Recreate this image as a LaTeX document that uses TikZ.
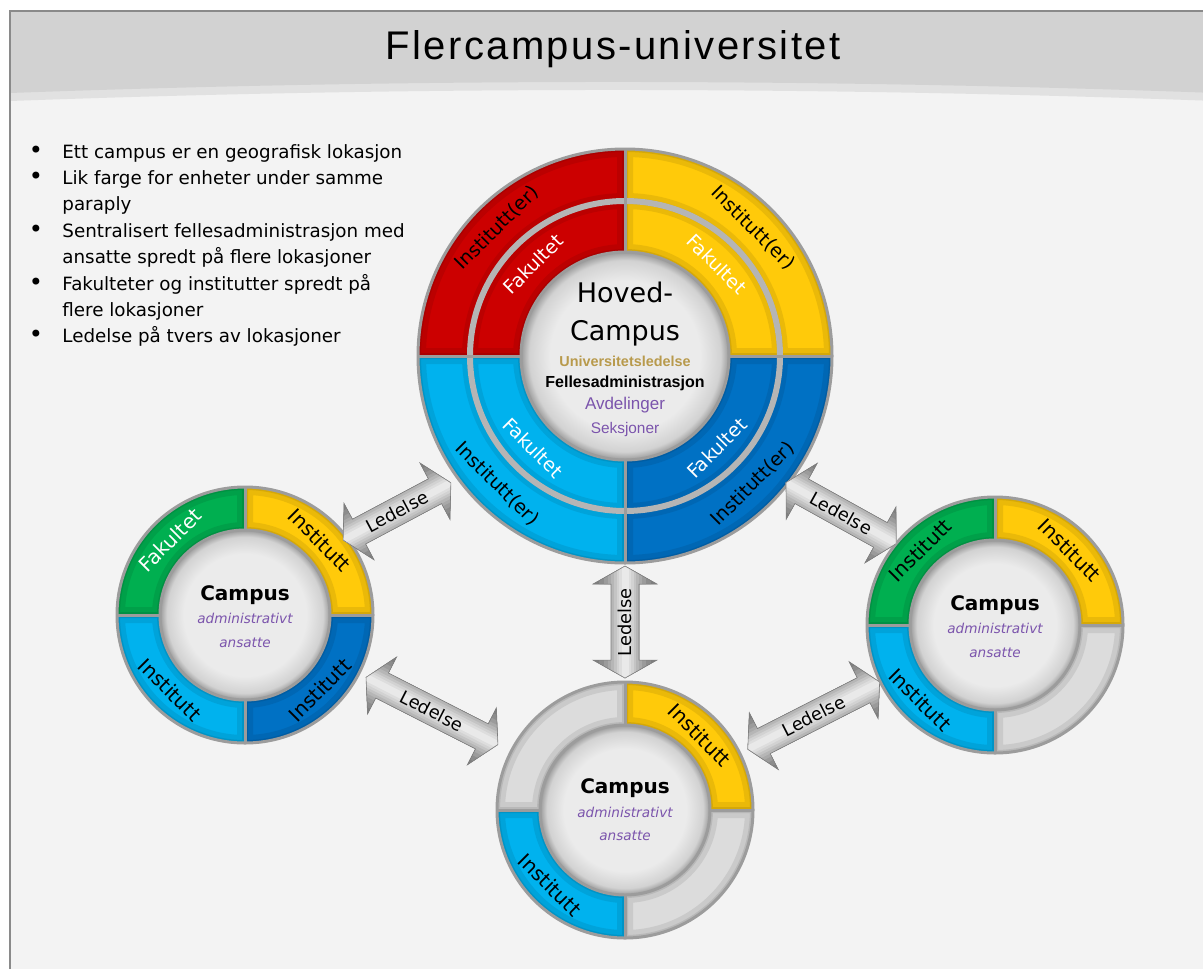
\documentclass[tikz,border=0pt]{standalone}
\usepackage{fontspec}
\setmainfont{DejaVu Sans}
\newfontfamily\titlefont[LetterSpace=6]{Liberation Sans}
\newfontfamily\arialfont{Liberation Sans}
\usetikzlibrary{calc}

\definecolor{pagebg}{HTML}{F3F3F3}
\definecolor{bandA}{HTML}{D2D2D2}
\definecolor{bandB}{HTML}{E1E1E1}
\definecolor{framegray}{HTML}{8A8A8A}
\definecolor{cRed}{HTML}{CC0000}
\definecolor{cYellow}{HTML}{FFCA0A}
\definecolor{cLight}{HTML}{00B2EE}
\definecolor{cDark}{HTML}{0071C4}
\definecolor{cGreen}{HTML}{00AF50}
\definecolor{cGray}{HTML}{DCDCDC}
\definecolor{ringgray}{HTML}{9C9C9C}
\definecolor{gold}{HTML}{B89A4C}
\definecolor{violet}{HTML}{7B54AC}
\definecolor{hubA}{HTML}{EBEBEB}
\definecolor{hubB}{HTML}{D2D2D2}
\definecolor{hubC}{HTML}{9A9A9A}
\definecolor{arrD}{HTML}{7E7E7E}
\definecolor{arrL}{HTML}{F2F2F2}

\pgfdeclareradialshading{hub}{\pgfpoint{0bp}{0bp}}{color(0bp)=(hubA); color(18bp)=(hubA); color(23bp)=(hubB); color(25bp)=(hubC); color(50bp)=(hubC)}

\tikzset{
  ringlbl/.style={inner sep=0pt, font=\fontsize{9.5}{11}\selectfont},
  smalllbl/.style={inner sep=0pt, font=\fontsize{10}{12}\selectfont},
  bullettxt/.style={inner sep=0pt, anchor=base west, font=\fontsize{9.15}{11}\selectfont},
  bulletdot/.style={inner sep=0pt, anchor=base, font=\fontsize{12}{12}\selectfont},
  ledtext/.style={inner sep=0pt, font=\fontsize{8.9}{10}\selectfont},
  campushead/.style={inner sep=0pt, anchor=base, font=\fontsize{10}{12}\selectfont\bfseries},
  campussub/.style={inner sep=0pt, anchor=base, text=violet, font=\fontsize{6.8}{8}\selectfont\itshape},
  hubline/.style={inner sep=0pt, anchor=base},
}

% one coloured quarter of a ring, with a soft inner shadow
\newcommand\ringpart[6]{% centre, inner r, outer r, start, end, colour
  \begin{scope}[shift={(#1)}]
    \fill[#6] (#4:#3) arc[start angle=#4,end angle=#5,radius=#3] -- (#5:#2) arc[start angle=#5,end angle=#4,radius=#2] -- cycle;
    \begin{scope}
      \clip (#4:#3) arc[start angle=#4,end angle=#5,radius=#3] -- (#5:#2) arc[start angle=#5,end angle=#4,radius=#2] -- cycle;
      \draw[#6!55!black, opacity=.18, line width=8pt] (#4:#3) arc[start angle=#4,end angle=#5,radius=#3] -- (#5:#2) arc[start angle=#5,end angle=#4,radius=#2] -- cycle;
      \draw[#6!55!black, opacity=.22, line width=3pt] (#4:#3) arc[start angle=#4,end angle=#5,radius=#3] -- (#5:#2) arc[start angle=#5,end angle=#4,radius=#2] -- cycle;
    \end{scope}
  \end{scope}}

% grey frame lines and shaded hub of a campus wheel
\newcommand\wheelframe[3]{% centre, hub r, outer r
  \draw[ringgray, line width=1.5pt] (#1) circle[radius=#3];
  \foreach \a in {0,90,180,270}
    \draw[ringgray, line width=1.5pt] ($(#1)+(\a:#2)$) -- ($(#1)+(\a:#3)$);
  \shade[shading=hub] (#1) circle[radius=#2];
  \draw[ringgray, line width=1.5pt] (#1) circle[radius=#2];}

% double-headed block arrow labelled "Ledelse": name, position, angle, half shaft length
\newcommand\ledarrow[4]{%
  \begin{scope}[shift={#2}, rotate=#3]
    \begin{scope}
      \clip (-#4-18,0) -- (-#4,32) -- (-#4,14) -- (#4,14) -- (#4,32) -- (#4+18,0)
        -- (#4,-32) -- (#4,-14) -- (-#4,-14) -- (-#4,-32) -- cycle;
      \fill[arrD] (-#4-20,-34) rectangle (#4+20,34);
      \foreach \w/\c in {32pt/0,26pt/12,21pt/25,17pt/37,14pt/48,11pt/60,8.5pt/72,6pt/82,3.5pt/92}
        \draw[line width=\w, color=arrL!\c!arrD] (-#4-20,0) -- (#4+20,0);
    \end{scope}
    \draw[arrD, line width=0.3pt] (-#4-18,0) -- (-#4,32) -- (-#4,14) -- (#4,14) -- (#4,32) -- (#4+18,0)
        -- (#4,-32) -- (#4,-14) -- (-#4,-14) -- (-#4,-32) -- cycle;
  \end{scope}
  \node[ledtext, rotate=#3] (#1) at #2 {Ledelse};}

\begin{document}
\begin{tikzpicture}[x=0.5pt, y=0.5pt]
\useasboundingbox (0,0) rectangle (1203,-969);

% slide background and title band
\fill[white] (0,0) rectangle (1203,-969);
\fill[pagebg] (10,-11) rectangle (1203,-969);
\fill[bandB] (10,-11) -- (1216,-11) -- (1216,-101) .. controls (814,-86.3) and (412,-86.3) .. (10,-101) -- cycle;
\fill[bandA] (10,-11) -- (1216,-11) -- (1216,-93) .. controls (814,-78.3) and (412,-78.3) .. (10,-93) -- cycle;
\draw[framegray, line width=0.6pt] (10,-969) -- (10,-11) -- (1203,-11);

\node[inner sep=0pt, anchor=base, font=\titlefont\fontsize{20}{24}\selectfont] (title) at (613,-59) {Flercampus-universitet};

% bullet list
\node[bulletdot] (d1) at (36,-158) {•};
\node[bullettxt] (b1) at (62,-158) {Ett campus er en geografisk lokasjon};
\node[bulletdot] (d2) at (36,-184.4) {•};
\node[bullettxt] (b2) at (62,-184.4) {Lik farge for enheter under samme};
\node[bullettxt] (b2b) at (62,-210.8) {paraply};
\node[bulletdot] (d3) at (36,-237.2) {•};
\node[bullettxt] (b3) at (62,-237.2) {Sentralisert fellesadministrasjon med};
\node[bullettxt] (b3b) at (62,-263.6) {ansatte spredt på flere lokasjoner};
\node[bulletdot] (d4) at (36,-290) {•};
\node[bullettxt] (b4) at (62,-290) {Fakulteter og institutter spredt på};
\node[bullettxt] (b4b) at (62,-316.4) {flere lokasjoner};
\node[bulletdot] (d5) at (36,-342.8) {•};
\node[bullettxt] (b5) at (62,-342.8) {Ledelse på tvers av lokasjoner};

% wheel centres
\coordinate (main) at (625,-356);
\coordinate (left) at (245,-615);
\coordinate (right) at (995,-625);
\coordinate (bottom) at (625,-810);

% main campus wheel
\ringpart{main}{155}{207}{90}{180}{cRed}
\ringpart{main}{104}{155}{90}{180}{cRed}
\ringpart{main}{155}{207}{0}{90}{cYellow}
\ringpart{main}{104}{155}{0}{90}{cYellow}
\ringpart{main}{155}{207}{180}{270}{cLight}
\ringpart{main}{104}{155}{180}{270}{cLight}
\ringpart{main}{155}{207}{270}{360}{cDark}
\ringpart{main}{104}{155}{270}{360}{cDark}
\draw[ringgray!75, line width=3pt] (main) circle[radius=155];
\wheelframe{main}{104}{207}

\node[ringlbl, rotate=45] (mInstR) at ($(main)+(135:181)$) {Institutt(er)};
\node[ringlbl, rotate=45, text=white] (mFakR) at ($(main)+(135:130)$) {Fakultet};
\node[ringlbl, rotate=-45] (mInstY) at ($(main)+(45:181)$) {Institutt(er)};
\node[ringlbl, rotate=-45, text=white] (mFakY) at ($(main)+(45:130)$) {Fakultet};
\node[ringlbl, rotate=-45] (mInstL) at ($(main)+(225:181)$) {Institutt(er)};
\node[ringlbl, rotate=-45, text=white] (mFakL) at ($(main)+(225:130)$) {Fakultet};
\node[ringlbl, rotate=45] (mInstD) at ($(main)+(315:181)$) {Institutt(er)};
\node[ringlbl, rotate=45, text=white] (mFakD) at ($(main)+(315:130)$) {Fakultet};

\node[hubline, font=\fontsize{13.5}{16}\selectfont] (hov) at (625,-302) {Hoved-};
\node[hubline, font=\fontsize{13.5}{16}\selectfont] (hcamp) at (625,-340) {Campus};
\node[hubline, text=gold, font=\arialfont\bfseries\fontsize{7.2}{8}\selectfont] (uled) at (625,-366) {Universitetsledelse};
\node[hubline, font=\arialfont\bfseries\fontsize{8}{9}\selectfont] (fadm) at (625,-387) {Fellesadministrasjon};
\node[hubline, text=violet, font=\arialfont\fontsize{8.5}{10}\selectfont] (avd) at (625,-409) {Avdelinger};
\node[hubline, text=violet, font=\arialfont\fontsize{7.7}{9}\selectfont] (seks) at (625,-433) {Seksjoner};

% left campus wheel
\ringpart{left}{85}{128}{90}{180}{cGreen}
\ringpart{left}{85}{128}{0}{90}{cYellow}
\ringpart{left}{85}{128}{180}{270}{cLight}
\ringpart{left}{85}{128}{270}{360}{cDark}
\wheelframe{left}{85}{128}
\node[smalllbl, rotate=45, text=white] (lFak) at ($(left)+(135:106)$) {Fakultet};
\node[smalllbl, rotate=-45] (lInstY) at ($(left)+(45:106)$) {Institutt};
\node[smalllbl, rotate=-45] (lInstL) at ($(left)+(225:106)$) {Institutt};
\node[smalllbl, rotate=45] (lInstD) at ($(left)+(315:106)$) {Institutt};
\node[campushead] (lCamp) at ($(left)+(0,15)$) {Campus};
\node[campussub] (lAdm) at ($(left)+(0,-8)$) {administrativt};
\node[campussub] (lAns) at ($(left)+(0,-32)$) {ansatte};

% right campus wheel
\ringpart{right}{85}{128}{90}{180}{cGreen}
\ringpart{right}{85}{128}{0}{90}{cYellow}
\ringpart{right}{85}{128}{180}{270}{cLight}
\ringpart{right}{85}{128}{270}{360}{cGray}
\wheelframe{right}{85}{128}
\node[smalllbl, rotate=45] (rInstG) at ($(right)+(135:106)$) {Institutt};
\node[smalllbl, rotate=-45] (rInstY) at ($(right)+(45:106)$) {Institutt};
\node[smalllbl, rotate=-45] (rInstL) at ($(right)+(225:106)$) {Institutt};
\node[campushead] (rCamp) at ($(right)+(0,15)$) {Campus};
\node[campussub] (rAdm) at ($(right)+(0,-8)$) {administrativt};
\node[campussub] (rAns) at ($(right)+(0,-32)$) {ansatte};

% bottom campus wheel
\ringpart{bottom}{85}{128}{90}{180}{cGray}
\ringpart{bottom}{85}{128}{0}{90}{cYellow}
\ringpart{bottom}{85}{128}{180}{270}{cLight}
\ringpart{bottom}{85}{128}{270}{360}{cGray}
\wheelframe{bottom}{85}{128}
\node[smalllbl, rotate=-45] (bInstY) at ($(bottom)+(45:106)$) {Institutt};
\node[smalllbl, rotate=-45] (bInstL) at ($(bottom)+(225:106)$) {Institutt};
\node[campushead] (bCamp) at ($(bottom)+(0,17)$) {Campus};
\node[campussub] (bAdm) at ($(bottom)+(0,-7)$) {administrativt};
\node[campussub] (bAns) at ($(bottom)+(0,-30)$) {ansatte};

% management links between the wheels
\ledarrow{aLM}{($(left)!0.4!(main)$)}{28}{43}
\ledarrow{aMR}{($(main)!0.584!(right)$)}{-29}{45}
\ledarrow{aMB}{($(main)!0.586!(bottom)$)}{90}{38}
\ledarrow{aLB}{($(left)!0.492!(bottom)$)}{-27}{56}
\ledarrow{aBR}{($(bottom)!0.51!(right)$)}{27}{56}
\end{tikzpicture}
\end{document}
